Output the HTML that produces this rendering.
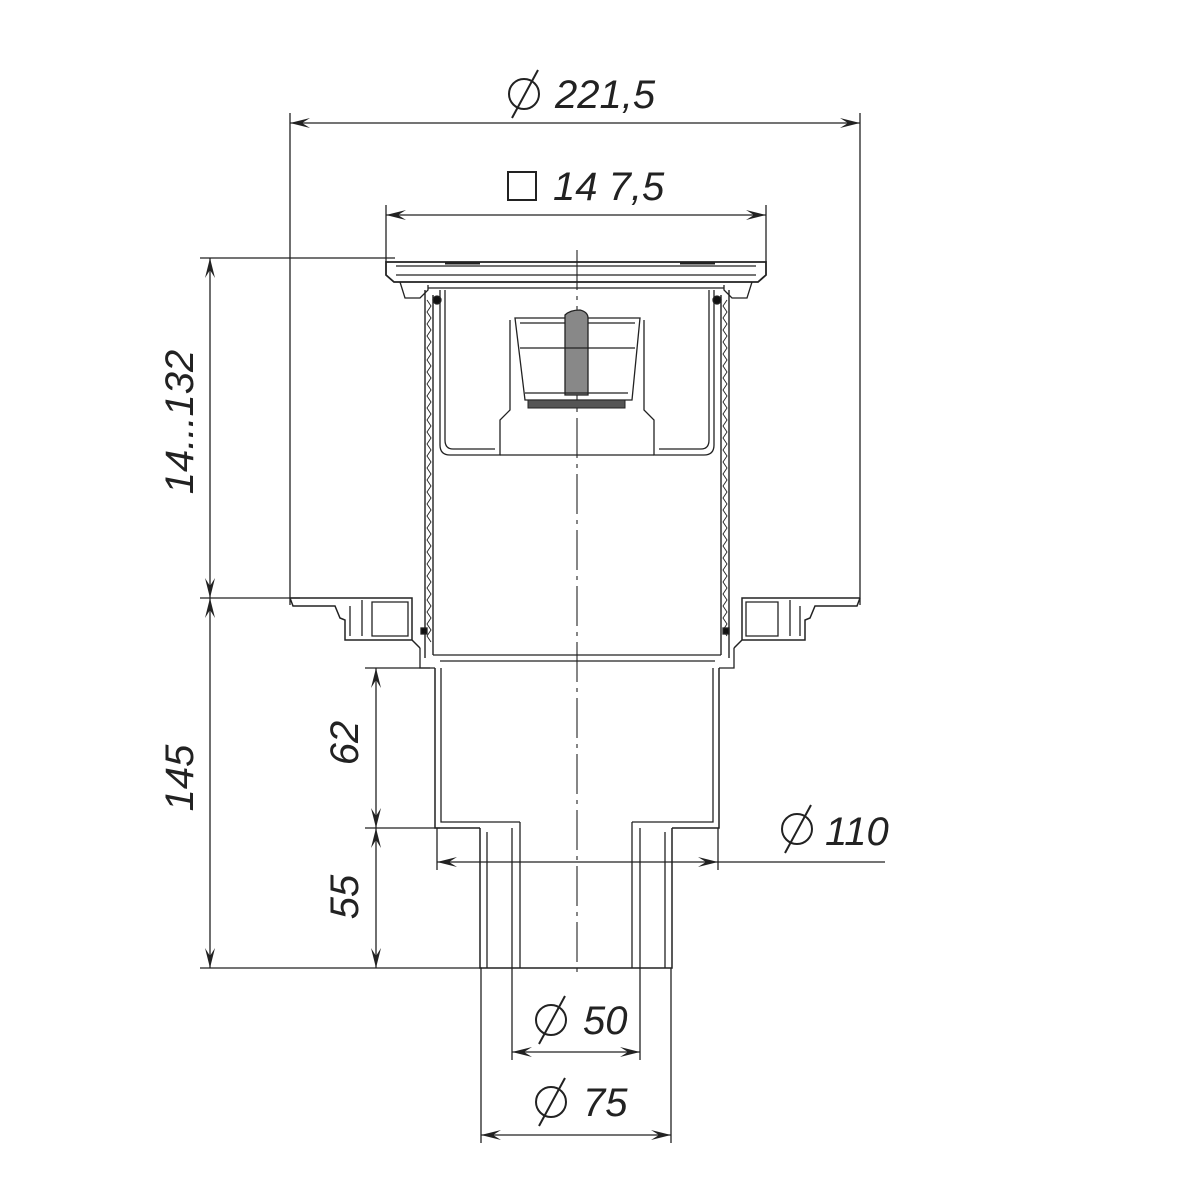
<!DOCTYPE html>
<html><head><meta charset="utf-8"><style>
html,body{margin:0;padding:0;background:#fff;}
svg{display:block}
text{font-family:"Liberation Sans",sans-serif;font-style:italic;fill:#222;}
</style></head><body>
<svg width="1200" height="1200" viewBox="0 0 1200 1200" xmlns="http://www.w3.org/2000/svg">
<defs>
<marker id="a" viewBox="0 0 20 10" refX="20" refY="5" markerWidth="20" markerHeight="10" markerUnits="userSpaceOnUse" orient="auto-start-reverse">
<path d="M0,0 L20,5 L0,10 L8,5 Z" fill="#222"/></marker>
</defs>
<g stroke="#222" stroke-width="1.3" fill="none">
<line x1="290" y1="123" x2="860" y2="123" marker-start="url(#a)" marker-end="url(#a)"/>
<line x1="290" y1="113" x2="290" y2="605"/>
<line x1="860" y1="113" x2="860" y2="605"/>
<line x1="386" y1="215" x2="766" y2="215" marker-start="url(#a)" marker-end="url(#a)"/>
<line x1="386" y1="205" x2="386" y2="262"/>
<line x1="766" y1="205" x2="766" y2="262"/>
<line x1="200" y1="258" x2="395" y2="258"/>
<line x1="200" y1="598" x2="300" y2="598"/>
<line x1="200" y1="968" x2="482" y2="968"/>
<line x1="210" y1="258" x2="210" y2="598" marker-start="url(#a)" marker-end="url(#a)"/>
<line x1="210" y1="598" x2="210" y2="968" marker-start="url(#a)" marker-end="url(#a)"/>
<line x1="365" y1="668" x2="430" y2="668"/>
<line x1="365" y1="828" x2="440" y2="828"/>
<line x1="376" y1="668" x2="376" y2="828" marker-start="url(#a)" marker-end="url(#a)"/>
<line x1="376" y1="828" x2="376" y2="968" marker-start="url(#a)" marker-end="url(#a)"/>
<line x1="437" y1="862" x2="718" y2="862" marker-start="url(#a)" marker-end="url(#a)"/>
<line x1="718" y1="862" x2="885" y2="862"/>
<line x1="437" y1="828" x2="437" y2="870"/>
<line x1="718" y1="828" x2="718" y2="870"/>
<line x1="512" y1="968" x2="512" y2="1060"/>
<line x1="640" y1="968" x2="640" y2="1060"/>
<line x1="512" y1="1052" x2="640" y2="1052" marker-start="url(#a)" marker-end="url(#a)"/>
<line x1="481" y1="968" x2="481" y2="1143"/>
<line x1="671" y1="968" x2="671" y2="1143"/>
<line x1="481" y1="1135" x2="671" y2="1135" marker-start="url(#a)" marker-end="url(#a)"/>
<line x1="577" y1="250" x2="577" y2="978" stroke-dasharray="40,6,4,6" stroke-width="1.1"/>

<path d="M386,262 L766,262 L766,275 L758,282 L394,282 L386,275 Z" stroke-width="1.8"/>
<path d="M396,266 L756,266 M396,275 L756,275"/>
<path d="M445,263 L480,263 M680,263 L715,263" stroke-width="3"/>
<path d="M400,282 L405,298 L420,298 L428,290 L428,285 M752,282 L747,298 L732,298 L724,290 L724,285"/>
<path d="M428,288 L724,288"/>
<path d="M425,290 L425,658 M433,295 L433,655" stroke-width="1.4"/>
<path d="M427,300 l4,6 l-4,6 l4,6 l-4,6 l4,6 l-4,6 l4,6 l-4,6 l4,6 l-4,6 l4,6 l-4,6 l4,6 l-4,6 l4,6 l-4,6 l4,6 l-4,6 l4,6 l-4,6 l4,6 l-4,6 l4,6 l-4,6 l4,6 l-4,6 l4,6 l-4,6 l4,6 l-4,6 l4,6 l-4,6 l4,6 l-4,6 l4,6 l-4,6 l4,6 l-4,6 l4,6 l-4,6 l4,6 l-4,6 l4,6 l-4,6 l4,6 l-4,6 l4,6 l-4,6 l4,6 l-4,6 l4,6 l-4,6 l4,6 l-4,6 l4,6 l-4,6 l4,6" stroke-width="0.9"/>
<path d="M729,290 L729,658 M721,295 L721,655" stroke-width="1.4"/>
<path d="M727,300 l-4,6 l4,6 l-4,6 l4,6 l-4,6 l4,6 l-4,6 l4,6 l-4,6 l4,6 l-4,6 l4,6 l-4,6 l4,6 l-4,6 l4,6 l-4,6 l4,6 l-4,6 l4,6 l-4,6 l4,6 l-4,6 l4,6 l-4,6 l4,6 l-4,6 l4,6 l-4,6 l4,6 l-4,6 l4,6 l-4,6 l4,6 l-4,6 l4,6 l-4,6 l4,6 l-4,6 l4,6 l-4,6 l4,6 l-4,6 l4,6 l-4,6 l4,6 l-4,6 l4,6 l-4,6 l4,6 l-4,6 l4,6 l-4,6 l4,6 l-4,6 l4,6" stroke-width="0.9"/>
<path d="M440,290 L440,445 Q440,455 450,455 L500,455 L500,420 L510,410 L510,320 M445,290 L445,440 Q445,449 453,449 L495,449"/>
<path d="M714,290 L714,445 Q714,455 704,455 L654,455 L654,420 L644,410 L644,320 M709,290 L709,440 Q709,449 701,449 L659,449"/>
<path d="M500,455 L654,455"/>
<path d="M515,318 L640,318 L632,400 L525,400 Z M520,323 L635,323"/>
<path d="M528,400 L625,400 L625,408 L528,408 Z" fill="#555" stroke-width="1"/>
<path d="M565,315 Q570,310 580,310 Q588,312 588,318 L588,395 L565,395 Z" fill="#888"/>
<path d="M520,348 L635,348 M525,393 L628,393"/>
<circle cx="437" cy="300" r="4" fill="#111"/>
<circle cx="717" cy="300" r="4" fill="#111"/>
<path d="M290,598 L412,598 L412,640 L420,648 M290,598 L293,606 L335,606 L340,618 L345,620 L345,640 L412,640" stroke-width="1.5"/>
<path d="M350,606 L350,636 M362,600 L362,636 M372,602 L408,602 L408,636 L372,636 Z"/>
<path d="M860,598 L742,598 L742,640 L734,648 M860,598 L857,606 L815,606 L810,618 L805,620 L805,640 L742,640" stroke-width="1.5"/>
<path d="M800,606 L800,636 M790,600 L790,636 M778,602 L746,602 L746,636 L778,636 Z"/>
<rect x="421" y="628" width="6" height="6" fill="#111"/>
<rect x="723" y="628" width="6" height="6" fill="#111"/>
<path d="M420,648 L420,668 L435,668 M734,648 L734,668 L719,668"/>
<path d="M433,655 L721,655 M440,661 L715,661" stroke-width="1.2"/>
<path d="M435,668 L435,828 L480,828 M719,668 L719,828 L672,828" stroke-width="1.5"/>
<path d="M441,668 L441,822 L520,822 M713,668 L713,822 L632,822"/>
<path d="M480,828 L480,968 L672,968 L672,828" stroke-width="1.5"/>
<path d="M487,832 L487,968 M512,828 L512,968 M520,822 L520,968"/>
<path d="M665,832 L665,968 M640,828 L640,968 M632,822 L632,968"/>
</g>
<g>
<circle cx="524" cy="94" r="15" fill="none" stroke="#222" stroke-width="2"/>
<line x1="512" y1="118" x2="538" y2="70" stroke="#222" stroke-width="2"/>
<text x="555" y="108" font-size="40">221,5</text>
<rect x="508" y="172" width="28" height="28" fill="none" stroke="#222" stroke-width="2"/>
<text x="553" y="200" font-size="40">14 7,5</text>
<circle cx="797" cy="829" r="15" fill="none" stroke="#222" stroke-width="2"/>
<line x1="785" y1="853" x2="811" y2="805" stroke="#222" stroke-width="2"/>
<text x="825" y="845" font-size="40">110</text>
<circle cx="551" cy="1020" r="15" fill="none" stroke="#222" stroke-width="2"/>
<line x1="539" y1="1044" x2="565" y2="996" stroke="#222" stroke-width="2"/>
<text x="583" y="1034" font-size="40">50</text>
<circle cx="551" cy="1102" r="15" fill="none" stroke="#222" stroke-width="2"/>
<line x1="539" y1="1126" x2="565" y2="1078" stroke="#222" stroke-width="2"/>
<text x="583" y="1116" font-size="40">75</text>
<text transform="translate(193,422) rotate(-90)" text-anchor="middle" font-size="40">14...132</text>
<text transform="translate(193,778) rotate(-90)" text-anchor="middle" font-size="40">145</text>
<text transform="translate(358,743) rotate(-90)" text-anchor="middle" font-size="40">62</text>
<text transform="translate(358,897) rotate(-90)" text-anchor="middle" font-size="40">55</text>
</g>
</svg>
</body></html>
